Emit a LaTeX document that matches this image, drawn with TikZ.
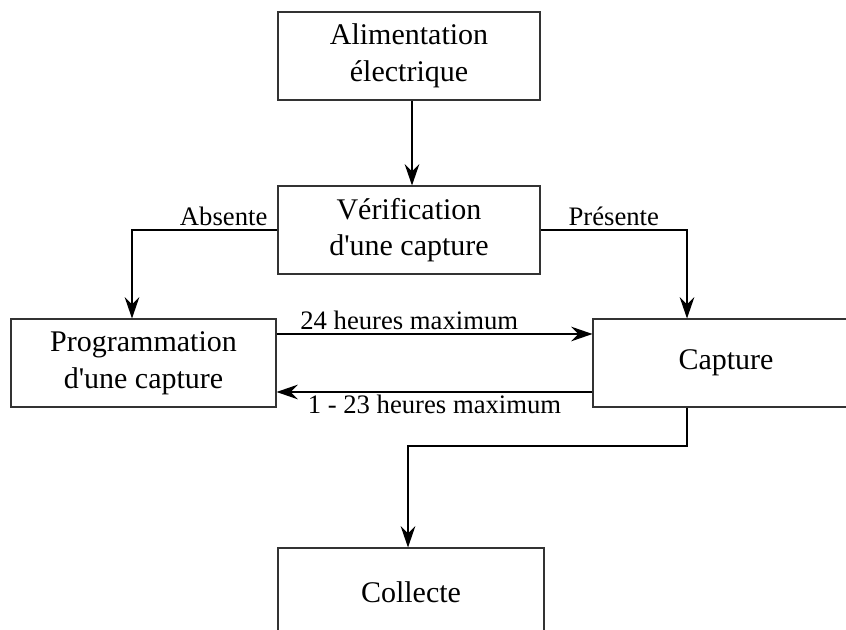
\documentclass[tikz,border=0pt]{standalone}
\usepackage{fontspec}
\setmainfont{Liberation Serif}[Ligatures=TeXOff]
\usetikzlibrary{arrows.meta}

\begin{document}
\begin{tikzpicture}[x=0.75pt,y=-0.75pt,
    box/.style={
        draw=black!80,
        line width=0.8pt,
        minimum width=262*0.75pt,
        minimum height=88*0.75pt,
        align=center,
        inner sep=0pt,
        font=\fontsize{22.5}{27.5}\selectfont
    },
    link/.style={
        black,
        line width=0.9pt,
        -{Stealth[length=16pt,width=11pt,inset=5.5pt]}
    },
    lbl/.style={
        font=\fontsize{20}{24}\selectfont,
        inner sep=3pt
    }
]

\clip (0,0) rectangle (846,630);

% boxes
\node[box] (alim) at (409,56) {Alimentation\\électrique};
\node[box] (verif) at (409,230) {Vérification\\d'une capture};
\node[box, minimum width=265*0.75pt] (prog) at (143.5,363) {Programmation\\d'une capture};
\node[box, minimum width=266*0.75pt] (capt) at (726,363) {Capture};
\node[box, minimum width=266*0.75pt] (coll) at (411,592) {Collecte};

% turning points
\coordinate (absTurn) at (132,230);
\coordinate (presTurn) at (687,230);
\coordinate (captOut) at (687,446);
\coordinate (collIn) at (408,446);

\draw[link] (alim.south -| 412,0) -- (verif.north -| 412,0);

\draw[link]
(verif.west) -- node[lbl, above, pos=0.37] {Absente} (absTurn)
-- (absTurn |- prog.north);

\draw[link]
(verif.east) -- node[lbl, above] {Présente} (presTurn)
-- (presTurn |- capt.north);

\draw[link]
(prog.east |- 0,334) -- node[lbl, above, pos=0.42] {24 heures maximum} (capt.west |- 0,334);

\draw[link]
(capt.west |- 0,392) -- node[lbl, below, inner sep=1.5pt] {1 - 23 heures maximum} (prog.east |- 0,392);

\draw[link]
(captOut |- capt.south) -- (captOut) -- (collIn) -- (collIn |- coll.north);

\end{tikzpicture}
\end{document}
